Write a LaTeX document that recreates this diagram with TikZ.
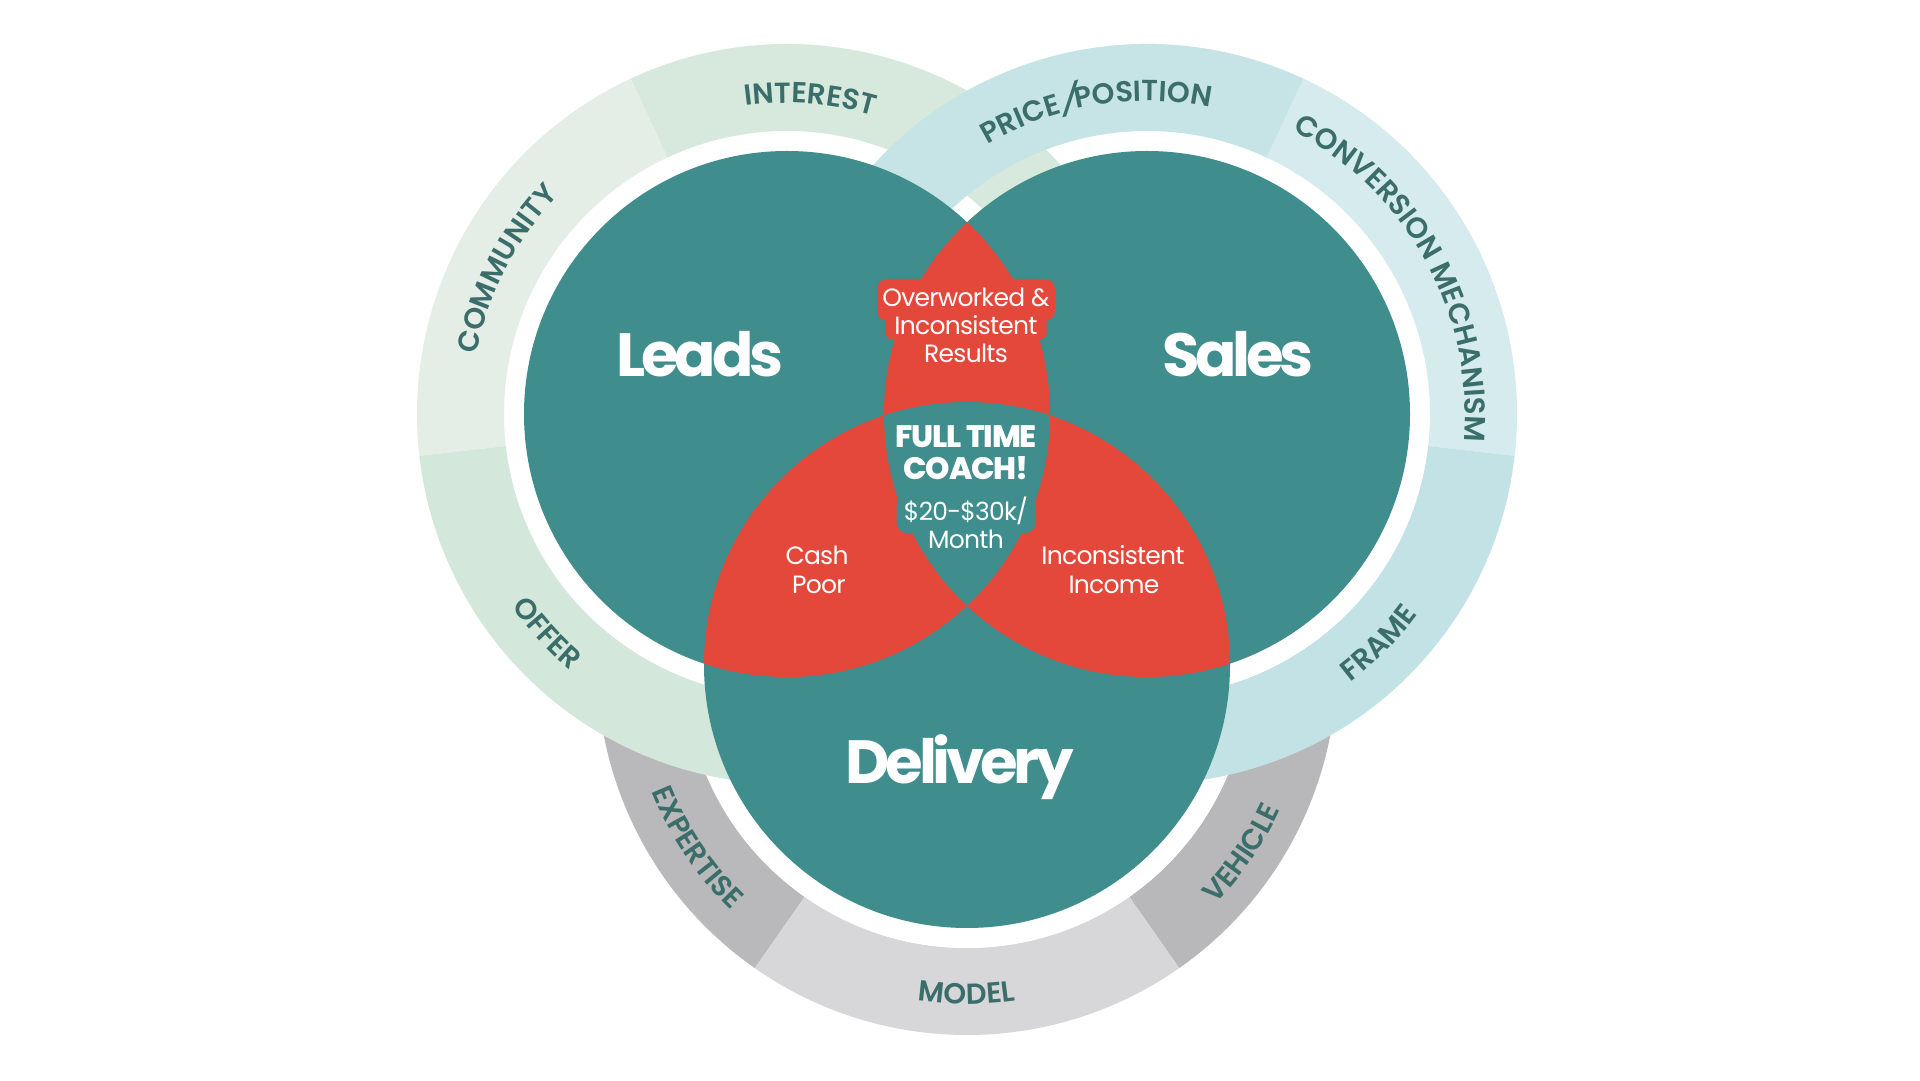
\documentclass[tikz,border=0pt]{standalone}
\usepackage{fontspec}
\usetikzlibrary{calc,decorations.text}
\setmainfont{Poppins}
\newfontfamily\popR{Poppins}[LetterSpace=-3]
\newfontfamily\popB{Poppins Bold}[LetterSpace=-7]
\newfontfamily\popXB{Poppins ExtraBold}[LetterSpace=-4]
\newfontfamily\popSB{Poppins SemiBold}
\newfontfamily\popSBslant{Poppins SemiBold}[FakeSlant=0.4]
\newcommand{\ringfont}{\popSB\fontsize{29}{29}\selectfont}
\newcommand{\slashfont}{\popSBslant\fontsize{29}{29}\selectfont}
\definecolor{tealc}{HTML}{3F8D8C}
\definecolor{redc}{HTML}{E4483B}
\definecolor{lint}{HTML}{D6E9DC}
\definecolor{lcom}{HTML}{E4EEE6}
\definecolor{loff}{HTML}{D3E8DB}
\definecolor{sprice}{HTML}{C6E3E6}
\definecolor{sconv}{HTML}{D5EBEE}
\definecolor{sframe}{HTML}{C2E2E6}
\definecolor{dexp}{HTML}{B9B9BC}
\definecolor{dmod}{HTML}{D7D7DA}
\definecolor{dveh}{HTML}{B8B7BA}
\definecolor{ringtxt}{HTML}{3B6E6A}
\pgfdeclarelayer{fg}
\pgfsetlayers{main,fg}
\newcommand{\ringsector}[4]{% center, a1, a2, color
  \fill[#4] ($(#1)+(#2:370)$) arc[start angle=#2, end angle=#3, radius=370]
    -- ($(#1)+(#3:283)$) arc[start angle=#3, end angle=#2, radius=283] -- cycle;}
% clockwise label (letters point outward)
\newcommand{\cwlabel}[4]{% center, mid angle, baseline radius, text
  \path[decorate, decoration={text along path, text align=center, text color=ringtxt,
    text={|\ringfont|#4}}]
    ($(#1)+(#2+50:#3)$) arc[start angle=#2+50, end angle=#2-50, radius=#3];}
% counter-clockwise label (letters point to the centre)
\newcommand{\ccwlabel}[4]{%
  \path[decorate, decoration={text along path, text align=center, text color=ringtxt,
    text={|\ringfont|#4}}]
    ($(#1)+(#2-50:#3)$) arc[start angle=#2-50, end angle=#2+50, radius=#3];}
\tikzset{
  bigw/.style={anchor=base, inner sep=0pt, text=white, font=\popB\fontsize{61}{61}\selectfont},
  midw/.style={anchor=base, inner sep=0pt, text=white, font=\popR\fontsize{25}{25}\selectfont},
  ftc/.style={anchor=base, inner sep=0pt, text=white, font=\popXB\fontsize{31}{31}\selectfont}
}
\begin{document}
\begin{tikzpicture}[x=1pt,y=1pt]
\useasboundingbox (0,0) rectangle (1920,1080);
\fill[white] (0,0) rectangle (1920,1080);
\coordinate (L) at (787,666);
\coordinate (S) at (1147,666);
\coordinate (D) at (967,415);
% delivery ring (bottom layer)
\ringsector{D}{-55}{60}{dveh}
\ringsector{D}{60}{235}{dexp}
\ringsector{D}{235}{305}{dmod}
% white gaps
\fill[white] (L) circle (283);
\fill[white] (S) circle (283);
\fill[white] (D) circle (283);
% leads ring
\ringsector{L}{-60}{115}{lint}
\ringsector{L}{115}{186.5}{lcom}
\ringsector{L}{186.5}{300}{loff}
% sales ring
\ringsector{S}{-6.5}{65}{sconv}
\ringsector{S}{65}{240}{sprice}
\ringsector{S}{240}{353.5}{sframe}
% circles
\fill[tealc] (L) circle (263);
\fill[tealc] (S) circle (263);
\fill[tealc] (D) circle (263);
\begin{scope}
  \clip (L) circle (263);
  \fill[redc] (S) circle (263);
  \fill[redc] (D) circle (263);
\end{scope}
\begin{scope}
  \clip (S) circle (263);
  \fill[redc] (D) circle (263);
\end{scope}
\begin{scope}
  \clip (L) circle (263);
  \clip (S) circle (263);
  \fill[tealc] (D) circle (263);
\end{scope}
% ring labels
\cwlabel{L}{85.7}{311}{INTEREST}
\cwlabel{L}{152.7}{316}{COMMUNITY}
\ccwlabel{L}{222.4}{336}{OFFER}
\cwlabel{S}{99.5}{313}{PRICE|\slashfont|/|\ringfont|POSITION}
\cwlabel{S}{29}{318}{CONVERSION MECHANISM}
\ccwlabel{S}{-44.6}{337}{FRAME}
\ccwlabel{D}{214}{340}{EXPERTISE}
\ccwlabel{D}{270}{339}{MODEL}
\ccwlabel{D}{325.6}{345}{VEHICLE}
% texts (foreground layer)
\begin{pgfonlayer}{fg}
\node[bigw] (leads) at (700,703) {Leads};
\node[bigw] (sales) at (1238,703) {Sales};
\node[bigw] (delivery) at (960,296) {Delivery};
\node[midw] (ow1) at (966,773) {Overworked \&};
\node[midw] (ow2) at (966,745) {Inconsistent};
\node[midw] (ow3) at (966,717) {Results};
\node[ftc] (ft1) at (966,632) {FULL TIME};
\node[ftc] (ft2) at (966,600) {COACH!};
\node[midw] (money) at (966,559) {\$20-\$30k/};
\node[midw] (month) at (966,531) {Month};
\node[midw] (cash) at (817,515) {Cash};
\node[midw] (poor) at (819,486) {Poor};
\node[midw] (inc1) at (1113,515) {Inconsistent};
\node[midw] (inc2) at (1114,486) {Income};
\end{pgfonlayer}
% highlight boxes behind the texts
\fill[redc, rounded corners=8pt] ([xshift=-9pt,yshift=-5pt]ow2.base west) rectangle ([xshift=9pt,yshift=20pt]ow2.base east);
\fill[redc, rounded corners=10pt] ([xshift=-5pt,yshift=-14pt]ow1.base west) rectangle ([xshift=5pt,yshift=28pt]ow1.base east);
\fill[tealc, rounded corners=10pt] ([xshift=-7pt,yshift=-12pt]money.base west) rectangle ([xshift=7pt,yshift=27pt]money.base east);
\end{tikzpicture}
\end{document}
